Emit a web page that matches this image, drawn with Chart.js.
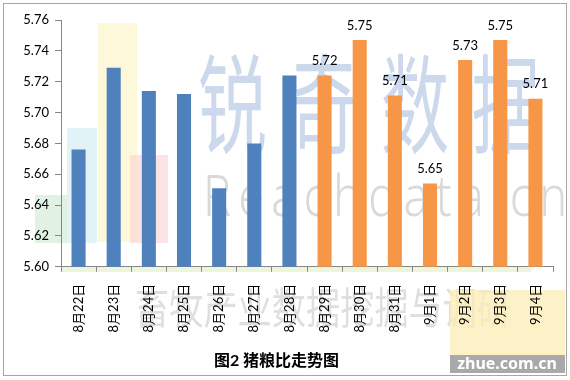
<!DOCTYPE html>
<html>
<head>
<meta charset="utf-8">
<script src="https://cdn.jsdelivr.net/npm/chart.js@4.4.1/dist/chart.umd.min.js"></script>
<style>
  html, body { margin: 0; padding: 0; background: #ffffff; }
  #wrap { position: relative; width: 570px; height: 380px; }
  canvas { display: block; }
</style>
</head>
<body>
<div id="wrap"><canvas id="c" width="570" height="380"></canvas></div>
<script>
// ---- data ----
const categories = ['8月22日','8月23日','8月24日','8月25日','8月26日','8月27日','8月28日',
                    '8月29日','8月30日','8月31日','9月1日','9月2日','9月3日','9月4日'];
const pastValues = [5.676, 5.729, 5.714, 5.712, 5.651, 5.680, 5.724,
                    null, null, null, null, null, null, null];
const recentValues = [null, null, null, null, null, null, null,
                      5.724, 5.747, 5.711, 5.654, 5.734, 5.747, 5.709];
const yTicks = [5.60, 5.62, 5.64, 5.66, 5.68, 5.70, 5.72, 5.74, 5.76];
const chartTitle = '图2 猪粮比走势图';
const watermarkMain = '锐奇数据';
const watermarkSub = 'Reachdata.cn';
const watermarkBottom = '畜牧产业数据挖掘与调研';
const logoText = 'zhue.com.cn';

const FONT = "Lato, 'Noto Sans CJK SC', sans-serif";

const framePlugin = {
  id: 'frame',
  beforeDraw(chart) {
    const ctx = chart.ctx;
    ctx.save();
    ctx.fillStyle = '#ffffff';
    ctx.fillRect(0, 0, chart.width, chart.height);
    // decorative background blocks
    const blocks = [
      [35, 195, 32, 48, 'rgba(200,230,205,0.55)'],
      [67, 128, 30, 115, 'rgba(205,235,240,0.6)'],
      [98, 23, 39, 219, 'rgba(253,243,195,0.6)'],
      [130, 155, 38, 88, 'rgba(250,205,205,0.55)']
    ];
    blocks.forEach(b => { ctx.fillStyle = b[4]; ctx.fillRect(b[0], b[1], b[2], b[3]); });
    // light band under axis
    ctx.fillStyle = 'rgba(225,240,195,0.6)';
    ctx.fillRect(61, 266, 470, 6);
    // bottom watermark
    ctx.save();
    ctx.fillStyle = 'rgba(150,150,150,0.3)';
    ctx.textAlign = 'left';
    ctx.textBaseline = 'middle';
    ctx.translate(135, 308);
    ctx.scale(0.95, 1.2);
    ctx.font = "36px 'Noto Sans CJK SC'";
    for (let i = 0; i < watermarkBottom.length; i++) {
      ctx.fillText(watermarkBottom[i], i * 36, 0);
    }
    ctx.restore();
    // logo box
    ctx.fillStyle = 'rgba(252,236,180,0.75)';
    ctx.fillRect(450, 290, 115, 65);
    ctx.fillStyle = '#a9a9a9';
    ctx.fillRect(450, 355, 115, 18);
    ctx.fillStyle = '#ffffff';
    ctx.font = "bold 16px 'Noto Sans', sans-serif";
    ctx.textAlign = 'center';
    ctx.textBaseline = 'middle';
    ctx.fillText(logoText, 507, 364);
    ctx.strokeStyle = '#a6a6a6';
    ctx.lineWidth = 1;
    ctx.strokeRect(3.5, 3.5, 563, 372);
    ctx.restore();
  },
  beforeDatasetsDraw(chart) {
    const ctx = chart.ctx;
    ctx.save();
    ctx.fillStyle = 'rgba(170,190,222,0.6)';
    ctx.textBaseline = 'middle';
    ctx.textAlign = 'left';
    ctx.translate(198, 104);
    ctx.scale(0.8, 1.25);
    ctx.font = "86px 'Noto Sans CJK SC'";
    for (let i = 0; i < watermarkMain.length; i++) {
      ctx.fillText(watermarkMain[i], i * 114, 0);
    }
    ctx.restore();
    ctx.save();
    ctx.fillStyle = 'rgba(185,185,185,0.55)';
    ctx.textBaseline = 'middle';
    ctx.font = "300 52px 'Noto Sans'";
    ctx.translate(203, 200);
    ctx.scale(0.9, 1.1);
    let x = 0;
    for (const ch of watermarkSub) {
      ctx.fillText(ch, x, 0);
      x += ctx.measureText(ch).width + 8;
    }
    ctx.restore();
  },
  afterDatasetsDraw(chart) {
    const ctx = chart.ctx;
    ctx.save();
    ctx.font = '13px ' + FONT;
    ctx.fillStyle = '#000000';
    ctx.textAlign = 'center';
    ctx.textBaseline = 'bottom';
    const meta = chart.getDatasetMeta(1);
    meta.data.forEach((bar, i) => {
      const v = recentValues[i];
      if (v === null) return;
      ctx.fillText(v.toFixed(2), bar.x, bar.y - 8);
    });
    ctx.restore();
  }
};

new Chart(document.getElementById('c'), {
  type: 'bar',
  data: {
    labels: categories,
    datasets: [
      { data: pastValues, backgroundColor: '#4f81bd', borderWidth: 0, skipNull: true },
      { data: recentValues, backgroundColor: '#f79646', borderWidth: 0, skipNull: true }
    ]
  },
  plugins: [framePlugin],
  options: {
    responsive: false,
    animation: false,
    devicePixelRatio: 1,
    layout: { padding: { left: 0, right: 17, top: 20, bottom: 10 } },
    datasets: { bar: { grouped: false, barPercentage: 0.4, categoryPercentage: 1.0 } },
    plugins: {
      legend: { display: false },
      tooltip: { enabled: false },
      title: {
        display: true,
        position: 'bottom',
        text: chartTitle,
        color: '#000000',
        font: { family: FONT, size: 16, weight: 'bold' },
        padding: { top: 2, bottom: 0 }
      }
    },
    scales: {
      x: {
        offset: true,
        grid: { display: true, drawOnChartArea: false, drawTicks: true, tickLength: 5, color: '#868686', offset: true },
        border: { display: true, color: '#868686' },
        ticks: {
          minRotation: 90, maxRotation: 90, autoSkip: false,
          padding: 12,
          color: '#000000',
          font: { family: FONT, size: 13 }
        },
        afterFit(s) { s.height = 82; }
      },
      y: {
        min: 5.60, max: 5.76,
        afterBuildTicks(s) { s.ticks = yTicks.map(v => ({ value: v })); },
        grid: { display: true, drawOnChartArea: false, drawTicks: true, tickLength: 6, color: '#868686' },
        border: { display: true, color: '#868686' },
        ticks: {
          padding: 6,
          color: '#000000',
          font: { family: FONT, size: 13 },
          callback: v => Number(v).toFixed(2)
        },
        afterFit(s) { s.width = 61; }
      }
    }
  }
});
</script>
</body>
</html>
